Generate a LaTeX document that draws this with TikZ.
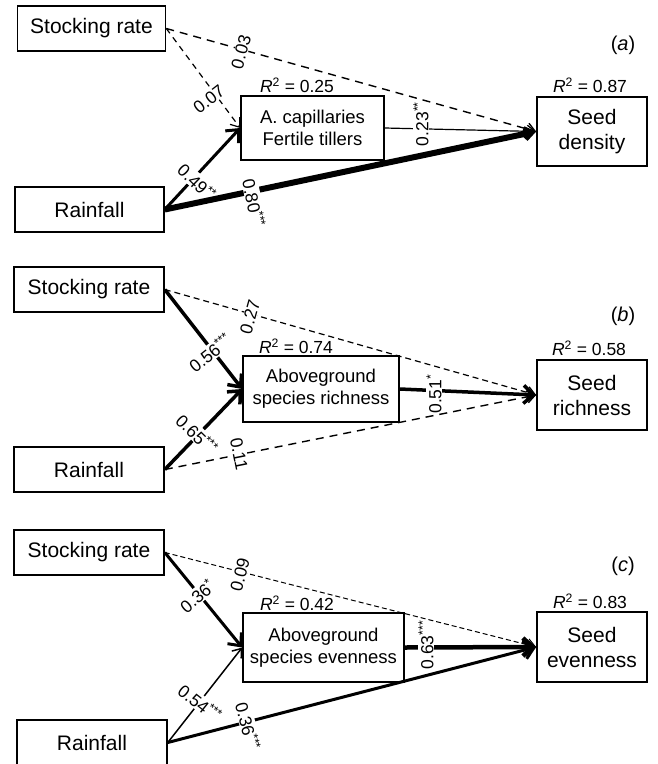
\documentclass[tikz,border=0pt]{standalone}
\usepackage{fontspec}
\setmainfont{Liberation Sans}
\usetikzlibrary{arrows.meta}
\begin{document}
\begin{tikzpicture}[x=1pt,y=-1pt,
  outerbox/.style={draw,line width=1.6pt,inner sep=0pt,font=\fontsize{21}{25}\selectfont,align=center},
  innerbox/.style={draw,line width=1.6pt,inner sep=0pt,font=\fontsize{18.5}{22}\selectfont,align=center},
  rsq/.style={font=\fontsize{17.5}{20}\selectfont},
  panel/.style={font=\fontsize{20}{24}\selectfont},
  lbl/.style={fill=white,inner sep=0.6pt,font=\fontsize{17.5}{20}\selectfont},
  tipbig/.style={-{Straight Barb[length=10pt,width=18pt]}},
  tipsmall/.style={-{Straight Barb[length=8pt,width=12pt]}},
]
\useasboundingbox (0,0) rectangle (658,764);

% ---------- panel (a)
\node[outerbox,minimum width=148pt,minimum height=45pt] (sr1) at (91.5,28.5) {Stocking rate};
\node[outerbox,minimum width=149pt,minimum height=45pt] (rain1) at (89.5,209.5) {Rainfall};
\node[innerbox,minimum width=143pt,minimum height=64pt] (ac) at (312.5,128) {A. capillaries\\Fertile tillers};
\node[outerbox,minimum width=110pt,minimum height=69pt] (sd) at (592,131.5) {Seed\\density};
\node[rsq] (r1) at (297,85) {\textit{R}\textsuperscript{2} = 0.25};
\node[rsq] (r2) at (590,85) {\textit{R}\textsuperscript{2} = 0.87};
\node[panel] (pa) at (623,45) {(\textit{a})};

\draw[line width=1.2pt,tipsmall] (ac.east) -- (sd.west);
\node[lbl,rotate=90] (l5) at (421,124) {0.23\textsuperscript{**}};
\draw[line width=3pt,tipbig] (rain1.east) -- (ac.west);
\node[lbl,rotate=-44] (l3) at (197,182) {0.49\textsuperscript{**}};
\draw[line width=6pt,-{Straight Barb[length=7pt,width=10pt]}] (rain1.east) -- (sd.west);
\node[lbl,rotate=-78.5] (l4) at (254,203) {0.80\textsuperscript{***}};
\draw[line width=1.4pt,dash pattern=on 8pt off 6pt,tipsmall] (sr1.east) -- (sd.west);
\node[lbl,rotate=74.5] (l1) at (241,52) {0.03};
\draw[line width=1.2pt,dash pattern=on 6pt off 5pt,tipsmall] (sr1.east) -- (ac.west);
\node[lbl,rotate=37.7] (l2) at (209,99) {0.07};

% ---------- panel (b)
\node[outerbox,minimum width=150pt,minimum height=45pt] (sr2) at (89,289.5) {Stocking rate};
\node[outerbox,minimum width=150pt,minimum height=45pt] (rain2) at (89,469.5) {Rainfall};
\node[innerbox,minimum width=156pt,minimum height=66pt] (asr) at (321,389) {Aboveground\\species richness};
\node[outerbox,minimum width=110pt,minimum height=70pt] (srich) at (592,395) {Seed\\richness};
\node[rsq] (r3) at (296,346) {\textit{R}\textsuperscript{2} = 0.74};
\node[rsq] (r4) at (589,348) {\textit{R}\textsuperscript{2} = 0.58};
\node[panel] (pb) at (623,316) {(\textit{b})};

\draw[line width=3.5pt,tipbig] (sr2.east) -- (asr.west);
\node[lbl,rotate=38.6] (l6) at (210,353) {0.56\textsuperscript{***}};
\draw[line width=3.5pt,tipbig] (rain2.east) -- (asr.west);
\node[lbl,rotate=-44.3] (l8) at (197,434) {0.65\textsuperscript{***}};
\draw[line width=3.5pt,tipbig] (asr.east) -- (srich.west);
\node[lbl,rotate=90] (l10) at (434,394) {0.51\textsuperscript{*}};
\draw[line width=1.2pt,dash pattern=on 6pt off 4pt,tipsmall] (sr2.east) -- (srich.west);
\node[lbl,rotate=74.3] (l7) at (250,317) {0.27};
\draw[line width=1.4pt,dash pattern=on 8pt off 6pt,tipsmall] (rain2.east) -- (srich.west);
\node[lbl,rotate=-78.6] (l9) at (239,454) {0.11};

% ---------- panel (c)
\node[outerbox,minimum width=150pt,minimum height=45pt] (sr3) at (89,552.5) {Stocking rate};
\node[outerbox,minimum width=150pt,minimum height=45pt] (rain3) at (92,742.5) {Rainfall};
\node[innerbox,minimum width=161pt,minimum height=69pt] (ase) at (323.5,647.5) {Aboveground\\species evenness};
\node[outerbox,minimum width=110pt,minimum height=70pt] (seven) at (592,647) {Seed\\evenness};
\node[rsq] (r5) at (297,603) {\textit{R}\textsuperscript{2} = 0.42};
\node[rsq] (r6) at (590,601) {\textit{R}\textsuperscript{2} = 0.83};
\node[panel] (pc) at (623,566) {(\textit{c})};

\draw[line width=3pt,tipbig] (sr3.east) -- (ase.west);
\node[lbl,rotate=40] (l11) at (197,596) {0.36\textsuperscript{*}};
\draw[line width=1.5pt,tipsmall] (rain3.east) -- (ase.west);
\node[lbl,rotate=-38.7] (l13) at (200,703) {0.54\textsuperscript{***}};
\draw[line width=3pt,tipbig] (rain3.east) -- (seven.west);
\node[lbl,rotate=-75.6] (l14) at (248,726) {0.36\textsuperscript{***}};
\draw[line width=4.5pt,tipbig] (ase.east) -- (seven.west);
\node[lbl,rotate=90] (l15) at (426,645) {0.63\textsuperscript{***}};
\draw[line width=1pt,dash pattern=on 5pt off 3pt,tipsmall] (sr3.east) -- (seven.west);
\node[lbl,rotate=75.9] (l12) at (240,575) {0.09};
\end{tikzpicture}
\end{document}
